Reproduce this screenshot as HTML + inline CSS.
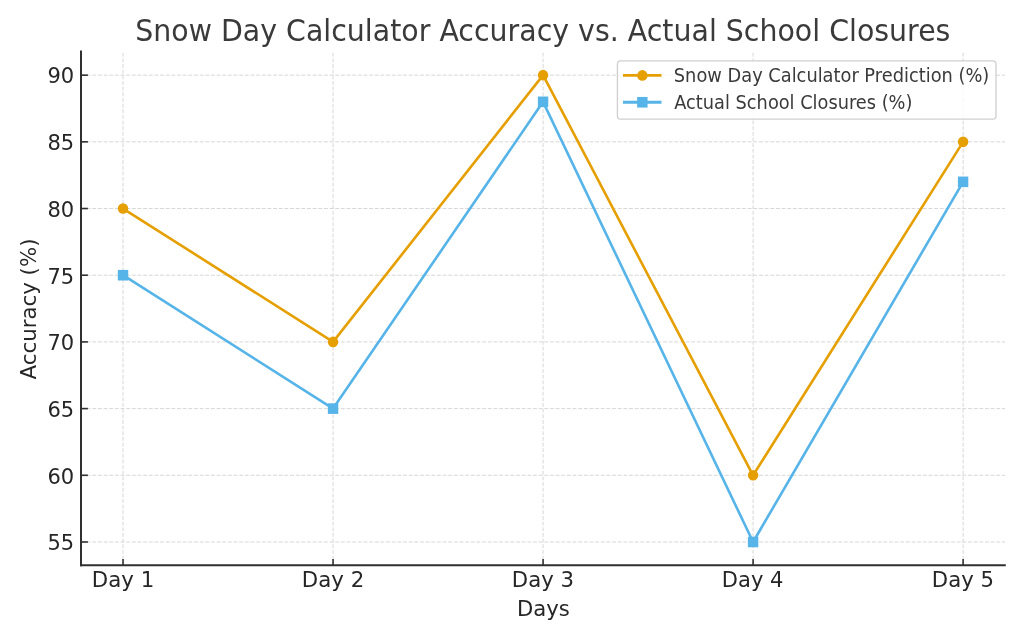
<!DOCTYPE html>
<html lang="en"><head><meta charset="utf-8"><title>Snow Day Calculator Accuracy vs. Actual School Closures</title>
<style>html,body{margin:0;padding:0;background:#fff;}body{width:1024px;height:640px;overflow:hidden;}svg{display:block;filter:blur(0.3px);}text{font-family:"DejaVu Sans", "Liberation Sans", sans-serif;}</style></head><body>
<svg width="1024" height="640" viewBox="0 0 1024 640">
<rect width="1024" height="640" fill="#ffffff"/>
<g stroke="#d0d0d0" stroke-width="0.85" stroke-dasharray="3.9 1.75" fill="none">
<line x1="123.03" y1="565.15" x2="123.03" y2="52.40"/>
<line x1="333.05" y1="565.15" x2="333.05" y2="52.40"/>
<line x1="543.07" y1="565.15" x2="543.07" y2="52.40"/>
<line x1="753.09" y1="565.15" x2="753.09" y2="52.40"/>
<line x1="963.11" y1="565.15" x2="963.11" y2="52.40"/>
<line x1="81.00" y1="541.98" x2="1005.00" y2="541.98"/>
<line x1="81.00" y1="475.29" x2="1005.00" y2="475.29"/>
<line x1="81.00" y1="408.60" x2="1005.00" y2="408.60"/>
<line x1="81.00" y1="341.91" x2="1005.00" y2="341.91"/>
<line x1="81.00" y1="275.22" x2="1005.00" y2="275.22"/>
<line x1="81.00" y1="208.53" x2="1005.00" y2="208.53"/>
<line x1="81.00" y1="141.84" x2="1005.00" y2="141.84"/>
<line x1="81.00" y1="75.15" x2="1005.00" y2="75.15"/>
</g>
<polyline points="123.03,208.53 333.05,341.91 543.07,75.15 753.09,475.29 963.11,141.84" fill="none" stroke="#E69F00" stroke-width="2.6" stroke-linejoin="round" stroke-linecap="butt"/>
<ellipse cx="123.03" cy="208.53" rx="5.20" ry="5.30" fill="#E69F00"/>
<ellipse cx="333.05" cy="341.91" rx="5.20" ry="5.30" fill="#E69F00"/>
<ellipse cx="543.07" cy="75.15" rx="5.20" ry="5.30" fill="#E69F00"/>
<ellipse cx="753.09" cy="475.29" rx="5.20" ry="5.30" fill="#E69F00"/>
<ellipse cx="963.11" cy="141.84" rx="5.20" ry="5.30" fill="#E69F00"/>
<polyline points="123.03,275.22 333.05,408.60 543.07,101.83 753.09,541.98 963.11,181.85" fill="none" stroke="#56B4E9" stroke-width="2.6" stroke-linejoin="round" stroke-linecap="butt"/>
<rect x="117.83" y="269.92" width="10.4" height="10.6" fill="#56B4E9"/>
<rect x="327.85" y="403.30" width="10.4" height="10.6" fill="#56B4E9"/>
<rect x="537.87" y="96.53" width="10.4" height="10.6" fill="#56B4E9"/>
<rect x="747.89" y="536.68" width="10.4" height="10.6" fill="#56B4E9"/>
<rect x="957.91" y="176.55" width="10.4" height="10.6" fill="#56B4E9"/>
<g stroke="#303030" stroke-width="2" fill="none">
<line x1="81.00" y1="50.60" x2="81.00" y2="566.15"/>
<line x1="80.00" y1="565.15" x2="1005.80" y2="565.15"/>
</g>
<g stroke="#303030" stroke-width="1.6" fill="none">
<line x1="123.03" y1="565.15" x2="123.03" y2="558.90"/>
<line x1="333.05" y1="565.15" x2="333.05" y2="558.90"/>
<line x1="543.07" y1="565.15" x2="543.07" y2="558.90"/>
<line x1="753.09" y1="565.15" x2="753.09" y2="558.90"/>
<line x1="963.11" y1="565.15" x2="963.11" y2="558.90"/>
<line x1="81.00" y1="541.98" x2="87.90" y2="541.98"/>
<line x1="81.00" y1="475.29" x2="87.90" y2="475.29"/>
<line x1="81.00" y1="408.60" x2="87.90" y2="408.60"/>
<line x1="81.00" y1="341.91" x2="87.90" y2="341.91"/>
<line x1="81.00" y1="275.22" x2="87.90" y2="275.22"/>
<line x1="81.00" y1="208.53" x2="87.90" y2="208.53"/>
<line x1="81.00" y1="141.84" x2="87.90" y2="141.84"/>
<line x1="81.00" y1="75.15" x2="87.90" y2="75.15"/>
</g>
<g fill="#262626" font-size="21.5">
<text transform="translate(91.75 587.45) scale(1.0157 1)" font-size="21.0">Day 1</text>
<text transform="translate(301.77 587.45) scale(1.0157 1)" font-size="21.0">Day 2</text>
<text transform="translate(511.80 587.45) scale(1.0113 1)" font-size="21.0">Day 3</text>
<text transform="translate(721.83 587.45) scale(1.0026 1)" font-size="21.0">Day 4</text>
<text transform="translate(931.84 587.45) scale(1.0113 1)" font-size="21.0">Day 5</text>
<text transform="translate(74.15 550.28) scale(0.978 1)" text-anchor="end">55</text>
<text transform="translate(74.15 483.59) scale(0.978 1)" text-anchor="end">60</text>
<text transform="translate(74.15 416.90) scale(0.978 1)" text-anchor="end">65</text>
<text transform="translate(74.15 350.21) scale(0.978 1)" text-anchor="end">70</text>
<text transform="translate(74.15 283.52) scale(0.978 1)" text-anchor="end">75</text>
<text transform="translate(74.15 216.83) scale(0.978 1)" text-anchor="end">80</text>
<text transform="translate(74.15 150.14) scale(0.978 1)" text-anchor="end">85</text>
<text transform="translate(74.15 83.45) scale(0.978 1)" text-anchor="end">90</text>
<text transform="translate(516.93 615.70) scale(0.9861 1)">Days</text>
<text transform="translate(36.0 379.40) rotate(-90) scale(0.9914 1)">Accuracy (%)</text>
</g>
<g fill="#3a3a3a" font-size="29.8"><text transform="translate(135.29 41.40) scale(0.9535 1)">Snow Day Calculator Accuracy vs. Actual School Closures</text></g>
<rect x="617.4" y="60.8" width="378.6" height="58.3" rx="3.2" ry="3.2" fill="#ffffff" fill-opacity="0.8" stroke="#cfcfcf" stroke-width="1.3"/>
<line x1="623" y1="75.4" x2="661.5" y2="75.4" stroke="#E69F00" stroke-width="2.8"/>
<ellipse cx="642.35" cy="75.4" rx="5.20" ry="5.30" fill="#E69F00"/>
<line x1="623" y1="102.25" x2="661.5" y2="102.25" stroke="#56B4E9" stroke-width="2.8"/>
<rect x="637.15" y="96.95" width="10.4" height="10.6" fill="#56B4E9"/>
<g fill="#3a3a3a" font-size="18.8">
<text transform="translate(673.82 82.00) scale(0.9479 1)">Snow Day Calculator Prediction (%)</text>
<text transform="translate(674.26 108.70) scale(0.9460 1)">Actual School Closures (%)</text>
</g>
</svg></body></html>
